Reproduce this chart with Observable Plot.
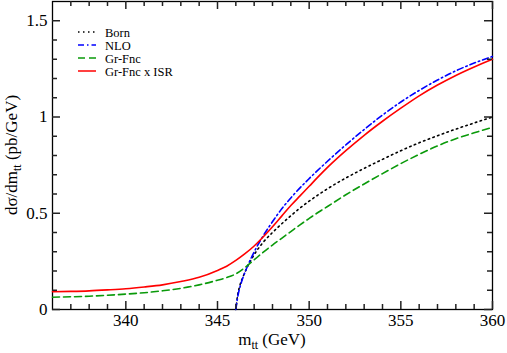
<!DOCTYPE html>
<html>
<head>
<meta charset="utf-8">
<script src="https://cdn.jsdelivr.net/npm/d3@7"></script>
<script src="https://cdn.jsdelivr.net/npm/@observablehq/plot@0.6"></script>
<style>
  html, body { margin: 0; padding: 0; background: #fff; }
  #chart { width: 507px; height: 353px; }
</style>
</head>
<body>
<div id="chart"></div>
<script>
// ---- data ----
const seriesNames = ["Born", "NLO", "Gr-Fnc", "Gr-Fnc x ISR"];

const bornX = [346.0, 346.1, 346.2, 346.4, 346.65, 347, 347.5, 348, 348.5, 349, 349.5, 350, 350.5, 351, 352, 353, 354, 355, 356, 357, 358, 359, 360];
const bornY = [0.0, 0.075, 0.118, 0.172, 0.225, 0.285, 0.35, 0.40, 0.445, 0.487, 0.527, 0.563, 0.596, 0.627, 0.683, 0.733, 0.78, 0.825, 0.866, 0.903, 0.937, 0.969, 1.0];

const nloX = [346.0, 346.1, 346.3, 346.55, 346.9, 347.35, 347.9, 348.44, 349.16, 350, 351, 352, 353, 354, 355, 356, 357, 358, 359, 360];
const nloY = [0.0, 0.064, 0.14, 0.205, 0.28, 0.36, 0.442, 0.515, 0.597, 0.68, 0.77, 0.855, 0.935, 1.01, 1.078, 1.138, 1.192, 1.24, 1.28, 1.315];

const grfX = [336, 337, 338, 339, 340, 341, 342, 343, 344, 345, 345.5, 346, 346.5, 347, 347.5, 348, 348.5, 349, 349.5, 350, 350.5, 351, 352, 353, 354, 355, 356, 357, 358, 359, 360];
const grfY = [0.064, 0.066, 0.069, 0.074, 0.08, 0.087, 0.097, 0.11, 0.128, 0.152, 0.166, 0.185, 0.218, 0.258, 0.298, 0.335, 0.37, 0.405, 0.44, 0.473, 0.505, 0.535, 0.596, 0.652, 0.706, 0.758, 0.806, 0.85, 0.887, 0.918, 0.946];

const isrX = [336, 337, 338, 339, 340, 341, 342, 343, 344, 345, 345.5, 346, 346.5, 347, 347.5, 348, 348.5, 349, 349.5, 350, 350.5, 351, 352, 353, 354, 355, 356, 357, 358, 359, 360];
const isrY = [0.092, 0.094, 0.097, 0.102, 0.108, 0.117, 0.128, 0.145, 0.167, 0.203, 0.225, 0.255, 0.29, 0.33, 0.378, 0.43, 0.485, 0.54, 0.59, 0.64, 0.69, 0.738, 0.825, 0.905, 0.978, 1.046, 1.11, 1.166, 1.216, 1.26, 1.30];

const xMajor = [340, 345, 350, 355, 360];
const xMinor = [337, 338, 339, 341, 342, 343, 344, 346, 347, 348, 349, 351, 352, 353, 354, 356, 357, 358, 359];
const yMajor = [0, 0.5, 1, 1.5];
const yMajorLabels = ["0", "0.5", "1", "1.5"];
const yMinor = [0.1, 0.2, 0.3, 0.4, 0.6, 0.7, 0.8, 0.9, 1.1, 1.2, 1.3, 1.4];

// ---- styles ----
const styles = {
  "Born":         {stroke: "#000000", dash: "1.5,3.5", width: 1.6},
  "NLO":          {stroke: "#0000ff", dash: "6,3,1.5,3", width: 1.6},
  "Gr-Fnc":       {stroke: "#0a9a0a", dash: "7,4", width: 1.6},
  "Gr-Fnc x ISR": {stroke: "#ff0000", dash: null, width: 1.6}
};

const toRows = (xs, ys) => xs.map((x, i) => ({x, y: ys[i]}));
const seriesData = {
  "Born": toRows(bornX, bornY),
  "NLO": toRows(nloX, nloY),
  "Gr-Fnc": toRows(grfX, grfY),
  "Gr-Fnc x ISR": toRows(isrX, isrY)
};

const lineMarks = seriesNames.map(name => Plot.line(seriesData[name], {
  x: "x", y: "y",
  stroke: styles[name].stroke,
  strokeWidth: styles[name].width,
  strokeDasharray: styles[name].dash,
  curve: "monotone-x"
}));

const W = 507, H = 353, ML = 52, MR = 15, MT = 1, MB = 44;
const FW = W - ML - MR, FH = H - MT - MB;
const MAJ = 8, MIN = 5;
const tk = {stroke: "#222", strokeWidth: 1.5};

const chart = Plot.plot({
  width: W,
  height: H,
  marginLeft: ML,
  marginRight: MR,
  marginTop: MT,
  marginBottom: MB,
  style: {fontFamily: "'Liberation Serif', 'DejaVu Serif', serif", fontSize: "17px", background: "#fff", color: "#000"},
  x: {domain: [336, 360]},
  y: {domain: [0, 1.6]},
  marks: [
    Plot.frame({stroke: "#000", strokeWidth: 1.3}),
    ...lineMarks,
    // inward ticks on all four sides
    Plot.tickX(xMajor, {x: d => d, insetTop: FH - MAJ, ...tk}),
    Plot.tickX(xMinor, {x: d => d, insetTop: FH - MIN, ...tk}),
    Plot.tickX(xMajor, {x: d => d, insetBottom: FH - MAJ, ...tk}),
    Plot.tickX(xMinor, {x: d => d, insetBottom: FH - MIN, ...tk}),
    Plot.tickY(yMajor, {y: d => d, insetRight: FW - MAJ, ...tk}),
    Plot.tickY(yMinor, {y: d => d, insetRight: FW - MIN, ...tk}),
    Plot.tickY(yMajor, {y: d => d, insetLeft: FW - MAJ, ...tk}),
    Plot.tickY(yMinor, {y: d => d, insetLeft: FW - MIN, ...tk}),
    // tick labels
    Plot.axisX(xMajor, {anchor: "bottom", tickSize: 0, tickPadding: 4, label: null, fontSize: 17}),
    Plot.axisY(yMajor, {anchor: "left", tickSize: 0, tickPadding: 5, label: null, fontSize: 17,
      tickFormat: (d) => yMajorLabels[yMajor.indexOf(d)]})
  ]
});

document.getElementById("chart").appendChild(chart);

// ---- axis titles with subscripts and legend ----
const svg = d3.select(chart);
const font = "'Liberation Serif', 'DejaVu Serif', serif";

const xt = svg.append("text")
  .attr("x", 272).attr("y", 345)
  .attr("text-anchor", "middle")
  .attr("font-family", font).attr("font-size", 17).attr("fill", "#000");
xt.append("tspan").text("m");
xt.append("tspan").attr("dy", 4).attr("font-size", 12).text("tt");
xt.append("tspan").attr("dy", -4).text(" (GeV)");

const yt = svg.append("text")
  .attr("transform", "translate(17,155) rotate(-90)")
  .attr("text-anchor", "middle")
  .attr("font-family", font).attr("font-size", 17).attr("fill", "#000");
yt.append("tspan").text("dσ/dm");
yt.append("tspan").attr("dy", 4).attr("font-size", 12).text("tt");
yt.append("tspan").attr("dy", -4).text(" (pb/GeV)");

const lg = svg.append("g");
seriesNames.forEach((name, i) => {
  const y = 32 + 13 * i;
  lg.append("line")
    .attr("x1", 78).attr("x2", 96).attr("y1", y).attr("y2", y)
    .attr("stroke", styles[name].stroke)
    .attr("stroke-width", 1.5)
    .attr("stroke-dasharray", styles[name].dash);
  lg.append("text")
    .attr("x", 105).attr("y", y + 4.5)
    .attr("text-anchor", "start")
    .attr("font-family", font).attr("font-size", 12.5).attr("fill", "#000")
    .text(name);
});
</script>
</body>
</html>
